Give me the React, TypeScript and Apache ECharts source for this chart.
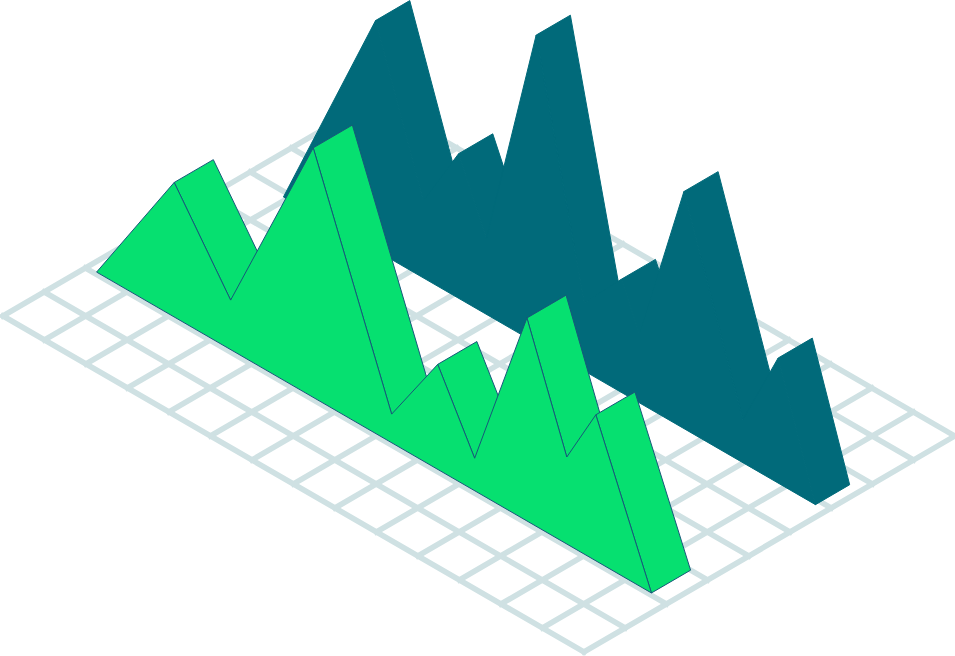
import React, { useEffect, useRef } from "react";
import * as echarts from "echarts";

// Floor grid, in cells
const alongTicks = [0, 1, 2, 3, 4, 5, 6, 7, 8, 9, 10, 11, 12, 13, 14];
const depthTicks = [0, 1, 2, 3, 4, 5, 6, 7, 8, 9];

// Front series: position along the floor (cells) and height
const frontAlong = [0.22, 2.09, 3.45, 5.44, 7.33, 8.44, 9.33, 10.59, 11.55, 12.25, 13.59];
const frontHeight = [0, 134.5, 49.5, 249.5, 28.6, 105, 32.5, 203, 87, 146, 0];

// Back series
const backAlong = [0.92, 3.14, 4.29, 5.14, 5.81, 7.01, 8.17, 9.06, 9.5, 10.57, 11.99, 12.84, 13.74];
const backHeight = [0, 229.7, 77, 144.5, 76, 308, 68, 113, 69, 237, 43, 125, 0];

// Ribbon placement on the floor (cells)
const frontDepth = 2.05;
const frontThickness = 0.95;
const backDepth = 5.88;
const backThickness = 0.83;

const WIDTH = 955;
const HEIGHT = 656;
const ORIGIN = [3, 316];
const U = [41.5, 24];
const V = [41.2, -24];

const GREEN = "#06e070";
const TEAL = "#016a7a";
const FLOOR = "#cfe1e3";
const EDGE = "#17587a";

const project = (api: any, along: number, depth: number, height: number) =>
  api.coord([
    ORIGIN[0] + along * U[0] + depth * V[0],
    ORIGIN[1] + along * U[1] + depth * V[1] - height,
  ]);

function floorSeries(z: number) {
  const rows = [
    ...alongTicks.map((a) => [a, depthTicks[0], a, depthTicks[depthTicks.length - 1]]),
    ...depthTicks.map((d) => [alongTicks[0], d, alongTicks[alongTicks.length - 1], d]),
  ];
  return {
    type: "custom",
    coordinateSystem: "cartesian2d",
    silent: true,
    clip: false,
    z,
    data: rows,
    renderItem: (_p: any, api: any) => {
      const a = project(api, api.value(0), api.value(1), 0);
      const b = project(api, api.value(2), api.value(3), 0);
      return {
        type: "line",
        shape: { x1: a[0], y1: a[1], x2: b[0], y2: b[1] },
        style: { stroke: FLOOR, lineWidth: 5.6, lineCap: "square", fill: "none" },
      };
    },
  };
}

function sideSeries(
  along: number[],
  heights: number[],
  depth: number,
  thick: number,
  fill: string,
  stroke: string,
  z: number
) {
  return {
    type: "custom",
    coordinateSystem: "cartesian2d",
    silent: true,
    clip: false,
    z,
    data: along.map((a, i) => [a, heights[i]]),
    renderItem: (p: any, api: any) => {
      const i = p.dataIndex;
      if (i >= along.length - 1 || heights[i + 1] >= heights[i]) return null;
      const a0 = api.value(0);
      const h0 = api.value(1);
      const a1 = along[i + 1];
      const h1 = heights[i + 1];
      return {
        type: "polygon",
        shape: {
          points: [
            project(api, a0, depth, h0),
            project(api, a0, depth + thick, h0),
            project(api, a1, depth + thick, h1),
            project(api, a1, depth, h1),
          ],
        },
        style: { fill, stroke, lineWidth: 1, lineJoin: "round" },
      };
    },
  };
}

function faceSeries(
  along: number[],
  heights: number[],
  depth: number,
  fill: string,
  stroke: string,
  z: number
) {
  return {
    type: "custom",
    coordinateSystem: "cartesian2d",
    silent: true,
    clip: false,
    z,
    data: along.map((a, i) => [a, heights[i]]),
    renderItem: (p: any, api: any) => {
      if (p.dataIndex !== 0) return null;
      return {
        type: "polygon",
        shape: { points: along.map((a, i) => project(api, a, depth, heights[i])) },
        style: { fill, stroke, lineWidth: 1, lineJoin: "round" },
      };
    },
  };
}

export default function App() {
  const ref = useRef<HTMLDivElement>(null);
  useEffect(() => {
    document.body.style.margin = "0";
    const chart = echarts.init(ref.current!, undefined, { renderer: "svg" });
    chart.setOption({
      animation: false,
      backgroundColor: "#ffffff",
      grid: { left: 0, right: 0, top: 0, bottom: 0 },
      xAxis: { type: "value", min: 0, max: WIDTH, show: false },
      yAxis: { type: "value", min: 0, max: HEIGHT, inverse: true, show: false },
      series: [
        floorSeries(1),
        sideSeries(backAlong, backHeight, backDepth, backThickness, TEAL, TEAL, 2),
        faceSeries(backAlong, backHeight, backDepth, TEAL, TEAL, 3),
        sideSeries(frontAlong, frontHeight, frontDepth, frontThickness, GREEN, EDGE, 4),
        faceSeries(frontAlong, frontHeight, frontDepth, GREEN, EDGE, 5),
      ],
    });
    return () => chart.dispose();
  }, []);
  return <div ref={ref} style={{ width: WIDTH, height: HEIGHT }} />;
}
